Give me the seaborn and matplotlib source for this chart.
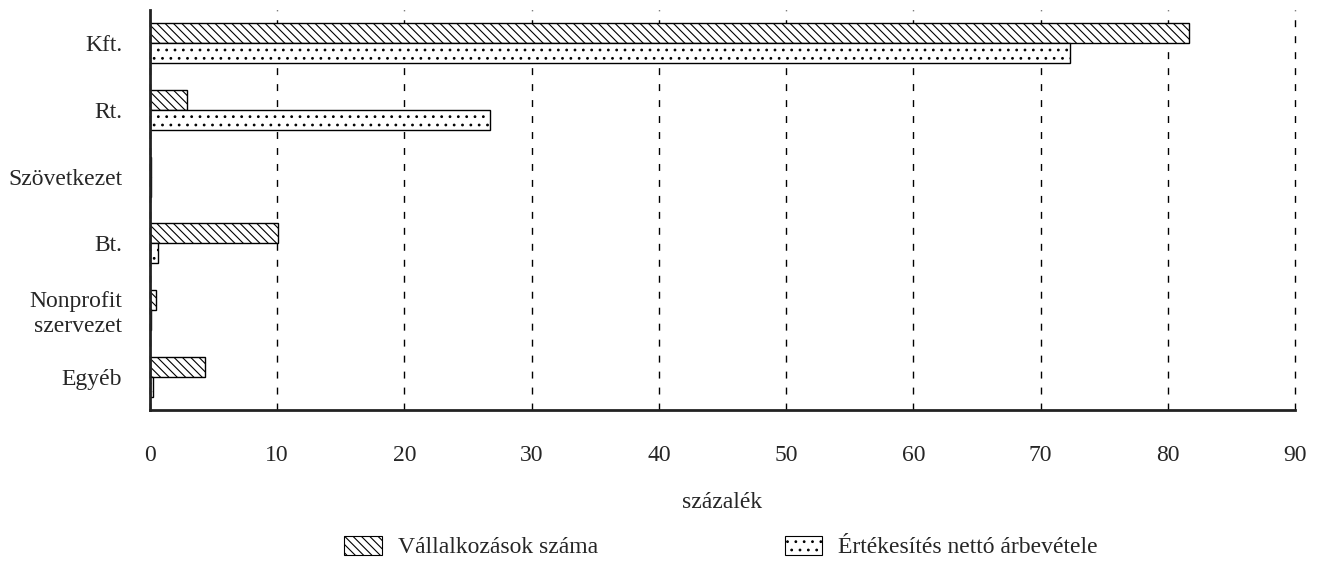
import pandas as pd
import matplotlib
matplotlib.use('Agg')
import matplotlib.pyplot as plt
import seaborn as sns
from matplotlib.patches import Patch

# data (percent)
categories = ['Kft.', 'Rt.', 'Szövetkezet', 'Bt.', 'Nonprofit\nszervezet', 'Egyéb']
vallalkozasok = [81.7, 2.9, 0.1, 10.1, 0.45, 4.3]
arbevetel = [72.3, 26.7, 0.1, 0.6, 0.05, 0.2]
series_names = ['Vállalkozások száma', 'Értékesítés nettó árbevétele']
hatches = ['\\\\\\\\', '..']
xticks = [0, 10, 20, 30, 40, 50, 60, 70, 80, 90]

df = pd.DataFrame({
    'kategoria': categories * 2,
    'szazalek': vallalkozasok + arbevetel,
    'sorozat': [series_names[0]] * len(categories) + [series_names[1]] * len(categories),
})

sns.set_style('white')
plt.rcParams['font.family'] = ['Liberation Serif', 'DejaVu Serif']
plt.rcParams['hatch.linewidth'] = 0.8
plt.rcParams['hatch.color'] = 'black'
fs = 17

fig = plt.figure(figsize=(13.22, 5.62), dpi=100)
ax = fig.add_axes([150 / 1322, 1 - 410 / 562, 1145 / 1322, 400 / 562])

sns.barplot(data=df, y='kategoria', x='szazalek', hue='sorozat', order=categories,
            hue_order=series_names, orient='h', width=0.6,
            palette=['white', 'white'], edgecolor='black', linewidth=1.0,
            legend=False, ax=ax)

for cont, h in zip(ax.containers, hatches):
    for bar in cont:
        bar.set_hatch(h)
        bar.set_edgecolor('black')

ax.set_xlim(0, 90)
ax.set_ylim(len(categories) - 0.5, -0.5)
ax.set_xticks(xticks)
ax.set_xticklabels([str(t) for t in xticks], fontsize=fs)
ax.set_yticks(range(len(categories)))
ax.set_yticklabels(categories, fontsize=fs, linespacing=1.25)
ax.set_yticks([i - 0.5 for i in range(len(categories) + 1)], minor=True)
ax.tick_params(axis='y', which='major', length=0, pad=20)
ax.tick_params(axis='y', which='minor', length=10, width=2, direction='out', color='#222222')
ax.tick_params(axis='x', length=18, width=2, direction='inout', color='#222222', pad=16)
ax.set_ylabel('')
ax.set_xlabel('százalék', fontsize=fs, labelpad=19)

ax.set_axisbelow(True)
ax.xaxis.grid(True, color='black', linestyle=(0, (5, 6.5)), linewidth=1.0)
for gl in ax.get_xgridlines():
    gl.set_clip_on(False)
ax.yaxis.grid(False)
sns.despine(ax=ax)
for side in ['left', 'bottom']:
    ax.spines[side].set_linewidth(2)
    ax.spines[side].set_color('#222222')

handles = [Patch(facecolor='white', edgecolor='black', hatch=h, linewidth=0.8) for h in hatches]
fig.legend(handles, series_names, loc='center', bbox_to_anchor=(0.5454, 0.0267), ncol=2,
           frameon=False, fontsize=fs, handlelength=1.6, handleheight=0.85,
           handletextpad=0.68, columnspacing=7.9)

fig.savefig('out.png', dpi=100)
